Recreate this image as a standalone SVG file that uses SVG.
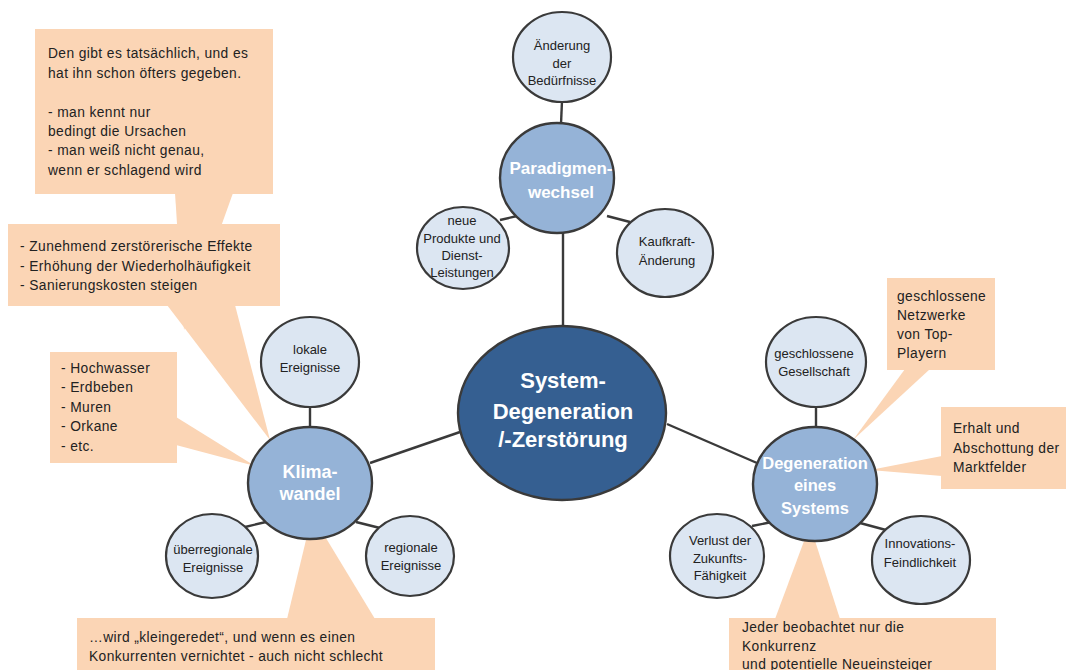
<svg xmlns="http://www.w3.org/2000/svg" width="1066" height="670" viewBox="0 0 1066 670">
<style>
.co{fill:#fbd5b5;stroke:none}
.sm{fill:#dce6f2;stroke:#3a3a3a;stroke-width:2.2}
.md{fill:#95b3d7;stroke:#3a3a3a;stroke-width:2.4}
.ct{fill:#355f91;stroke:#3a3a3a;stroke-width:2.4}
.ln{stroke:#3a3a3a;stroke-width:2.4;fill:none}
text{font-family:"Liberation Sans",Arial,sans-serif;fill:#222}
.t{font-size:13.8px;letter-spacing:0.4px}
.n{font-size:13px;text-anchor:middle}
.w{fill:#fff;font-weight:bold;text-anchor:middle}
</style>
<rect width="1066" height="670" fill="#fff"/>
<g id="callouts">
<g id="callout-ursachen">
<polygon class="co" points="175,193 233,193 184,330"/>
<rect class="co" x="35" y="29" width="238" height="165"/>
<text class="t" x="48" y="58">Den gibt es tatsächlich, und es</text>
<text class="t" x="48" y="78">hat ihn schon öfters gegeben.</text>
<text class="t" x="48" y="117">- man kennt nur</text>
<text class="t" x="48" y="136">bedingt die Ursachen</text>
<text class="t" x="48" y="155">- man weiß nicht genau,</text>
<text class="t" x="48" y="175">wenn er schlagend wird</text>
</g>
<g id="callout-effekte">
<polygon class="co" points="167,305 235,305 270,440"/>
<rect class="co" x="8" y="224" width="272" height="82"/>
<text class="t" x="20" y="251">- Zunehmend  zerstörerische Effekte</text>
<text class="t" x="20" y="271">- Erhöhung der Wiederholhäufigkeit</text>
<text class="t" x="20" y="290">- Sanierungskosten steigen</text>
</g>
<g id="callout-hochwasser">
<polygon class="co" points="176,417 176,445 255,466"/>
<rect class="co" x="50" y="352" width="127" height="111"/>
<text class="t" x="61" y="373">- Hochwasser</text>
<text class="t" x="61" y="392">- Erdbeben</text>
<text class="t" x="61" y="412">- Muren</text>
<text class="t" x="61" y="431">- Orkane</text>
<text class="t" x="61" y="451">- etc.</text>
</g>
<g id="callout-kleingeredet">
<polygon class="co" points="287,619 375,619 312,515"/>
<rect class="co" x="77" y="618" width="358" height="52"/>
<text class="t" x="89" y="642">…wird „kleingeredet“,  und wenn es einen</text>
<text class="t" x="89" y="661">Konkurrenten vernichtet - auch nicht schlecht</text>
</g>
<g id="callout-netzwerke">
<polygon class="co" points="905,369 930,369 853,440"/>
<rect class="co" x="887" y="278" width="108" height="92"/>
<text class="t" x="897" y="301">geschlossene</text>
<text class="t" x="897" y="320">Netzwerke</text>
<text class="t" x="897" y="339">von Top-</text>
<text class="t" x="897" y="358">Playern</text>
</g>
<g id="callout-erhalt">
<polygon class="co" points="942,456 942,476 870,470"/>
<rect class="co" x="941" y="407" width="125" height="82"/>
<text class="t" x="953" y="433">Erhalt und</text>
<text class="t" x="953" y="453">Abschottung der</text>
<text class="t" x="953" y="472">Marktfelder</text>
</g>
<g id="callout-jeder">
<polygon class="co" points="775,619 840,619 810,525"/>
<rect class="co" x="729" y="618" width="267" height="52"/>
<text class="t" x="742" y="632">Jeder beobachtet nur die</text>
<text class="t" x="742" y="651">Konkurrenz</text>
<text class="t" x="742" y="669">und potentielle Neueinsteiger</text>
</g>
</g>
<g id="connectors">
<line class="ln" x1="562" y1="101" x2="561" y2="124"/>
<line class="ln" x1="500" y1="220" x2="517" y2="216"/>
<line class="ln" x1="607" y1="216" x2="630" y2="222"/>
<line class="ln" x1="563" y1="232" x2="563" y2="327"/>
<line class="ln" x1="370" y1="463" x2="460" y2="432"/>
<line class="ln" x1="310" y1="406" x2="310" y2="428"/>
<line class="ln" x1="245" y1="527" x2="266" y2="522"/>
<line class="ln" x1="356" y1="522" x2="380" y2="528"/>
<line class="ln" x1="667" y1="424" x2="757" y2="463"/>
<line class="ln" x1="816" y1="406" x2="816" y2="428"/>
<line class="ln" x1="752" y1="526" x2="772" y2="522"/>
<line class="ln" x1="860" y1="523" x2="886" y2="530"/>
</g>
<g id="node-center">
<ellipse class="ct" cx="562" cy="413" rx="104" ry="87"/>
<text class="w" x="563" y="388" font-size="22">System-</text>
<text class="w" x="563" y="419" font-size="22">Degeneration</text>
<text class="w" x="563" y="447" font-size="22">/-Zerstörung</text>
</g>
<g id="node-paradigmen">
<ellipse class="md" cx="557" cy="178" rx="57" ry="55"/>
<text class="w" x="561" y="174" font-size="17">Paradigmen-</text>
<text class="w" x="561" y="198" font-size="17">wechsel</text>
</g>
<g id="node-beduerfnisse">
<ellipse class="sm" cx="562" cy="57" rx="49" ry="45"/>
<text class="n" x="562" y="50">Änderung</text>
<text class="n" x="562" y="68">der</text>
<text class="n" x="562" y="85">Bedürfnisse</text>
</g>
<g id="node-produkte">
<ellipse class="sm" cx="463" cy="248" rx="46" ry="41"/>
<text class="n" x="462" y="225">neue</text>
<text class="n" x="462" y="243">Produkte und</text>
<text class="n" x="462" y="260">Dienst-</text>
<text class="n" x="462" y="277">Leistungen</text>
</g>
<g id="node-kaufkraft">
<ellipse class="sm" cx="665" cy="253" rx="48" ry="44"/>
<text class="n" x="667" y="246">Kaufkraft-</text>
<text class="n" x="667" y="265">Änderung</text>
</g>
<g id="node-klima">
<ellipse class="md" cx="310" cy="483" rx="62" ry="56"/>
<text class="w" x="310" y="478" font-size="18">Klima-</text>
<text class="w" x="310" y="500" font-size="18">wandel</text>
</g>
<g id="node-lokal">
<ellipse class="sm" cx="310" cy="362" rx="49" ry="45"/>
<text class="n" x="310" y="354">lokale</text>
<text class="n" x="310" y="372">Ereignisse</text>
</g>
<g id="node-ueberregional">
<ellipse class="sm" cx="212" cy="556" rx="46" ry="42"/>
<text class="n" x="213" y="554">überregionale</text>
<text class="n" x="213" y="572">Ereignisse</text>
</g>
<g id="node-regional">
<ellipse class="sm" cx="410" cy="556" rx="44" ry="40"/>
<text class="n" x="411" y="552">regionale</text>
<text class="n" x="411" y="570">Ereignisse</text>
</g>
<g id="node-degeneration">
<ellipse class="md" cx="815" cy="484" rx="62" ry="57"/>
<text class="w" x="815" y="469" font-size="16.5">Degeneration</text>
<text class="w" x="815" y="491" font-size="16.5">eines</text>
<text class="w" x="815" y="514" font-size="16.5">Systems</text>
</g>
<g id="node-gesellschaft">
<ellipse class="sm" cx="816" cy="362" rx="50" ry="45"/>
<text class="n" x="814" y="358">geschlossene</text>
<text class="n" x="814" y="376">Gesellschaft</text>
</g>
<g id="node-verlust">
<ellipse class="sm" cx="717" cy="556" rx="47" ry="42"/>
<text class="n" x="720" y="545">Verlust der</text>
<text class="n" x="720" y="563">Zukunfts-</text>
<text class="n" x="720" y="580">Fähigkeit</text>
</g>
<g id="node-innovation">
<ellipse class="sm" cx="921" cy="560" rx="49" ry="44"/>
<text class="n" x="920" y="548">Innovations-</text>
<text class="n" x="920" y="567">Feindlichkeit</text>
</g>
</svg>
